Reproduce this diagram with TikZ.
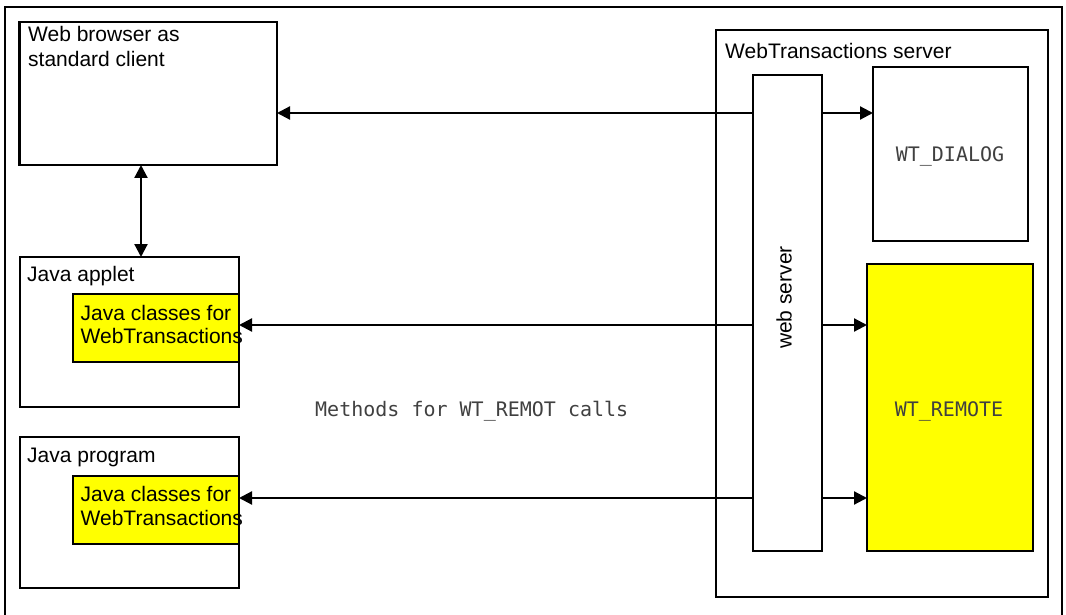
\documentclass[tikz,border=0pt]{standalone}
\usepackage{fontspec}
\setmainfont{Liberation Sans}
\newfontfamily\wtmono{DejaVu Sans Mono}
\usetikzlibrary{arrows.meta,positioning}
\definecolor{wtyellow}{RGB}{255,255,0}
\definecolor{wtgray}{RGB}{64,64,64}

\begin{document}
\begin{tikzpicture}[x=1pt, y=-1pt,
    box/.style={draw, line width=2.4pt, inner sep=0pt, outer sep=0pt, anchor=north west},
    clsbox/.style={box, fill=wtyellow},
    title/.style={inner sep=0pt, anchor=north west, align=left, font=\fontsize{21}{25}\selectfont},
    clstitle/.style={title, font=\fontsize{21}{23.3}\selectfont},
    mono/.style={inner sep=0pt, anchor=base, text=wtgray, font=\wtmono\fontsize{20}{24}\selectfont},
    tip/.style={line width=2.2pt, -{Triangle[length=13pt,width=13pt]}},
    tips/.style={line width=2.2pt, {Triangle[length=13pt,width=13pt]}-{Triangle[length=13pt,width=13pt]}}]
    \useasboundingbox (0,0) rectangle (1066,615);
    % outer frame
    \draw[line width=1.2pt] (5,615) -- (5,7) -- (1062,7) -- (1062,615);
    % clients
    \node[box, minimum width=257.5pt, minimum height=143pt] (browser) at (19.5,22) {};
    \node[box, minimum width=219pt, minimum height=150pt] (applet) at (20,257) {};
    \node[clsbox, minimum width=166pt, minimum height=68pt] (appletcls) at (73,294) {};
    \node[box, minimum width=219pt, minimum height=151pt] (program) at (20,437) {};
    \node[clsbox, minimum width=166pt, minimum height=68pt] (programcls) at (73,476) {};
    % server side
    \node[box, minimum width=332pt, minimum height=567pt] (server) at (716,30) {};
    \node[box, fill=white, minimum width=69pt, minimum height=476pt] (web) at (753,75) {};
    \node[box, line width=1.4pt, minimum width=155pt, minimum height=174pt] (dialog) at (873,67) {};
    \node[clsbox, minimum width=166pt, minimum height=287pt] (remote) at (867,264) {};
    % texts
    \node[title] (browsertxt) at (28,26.4) {Web browser as\\standard client};
    \node[title] (applettxt) at (27,266.5) {Java applet};
    \node[clstitle] (appletclstxt) at (80.5,305.2) {Java classes for\\WebTransactions};
    \node[title] (programtxt) at (27,448) {Java program};
    \node[clstitle] (programclstxt) at (80.5,486.4) {Java classes for\\WebTransactions};
    \node[title] (servertxt) at (725,43) {WebTransactions server};
    \node[inner sep=0pt, anchor=base, rotate=90, font=\fontsize{21}{25}\selectfont] (webtxt) at (791.7,297.5) {web server};
    \node[mono] (dialogtxt) at (950,162) {WT\_DIALOG};
    \node[mono] (remotetxt) at (949,416) {WT\_REMOTE};
    \node[mono, anchor=base west] (methods) at (315,416) {Methods for WT\_REMOT calls};
    % connectors
    \coordinate (rowA) at (0,113);
    \coordinate (rowB) at (0,325);
    \coordinate (rowC) at (0,498);
    \coordinate (colA) at (141,0);
    \draw
    (browser.south -| colA) edge[tips] (applet.north -| colA)
    (web.west |- rowA) edge[tip] (browser.east |- rowA)
    (web.east |- rowA) edge[tip] (dialog.west |- rowA)
    (web.west |- rowB) edge[tip] (appletcls.east |- rowB)
    (web.east |- rowB) edge[tip] (remote.west |- rowB)
    (web.west |- rowC) edge[tip] (programcls.east |- rowC)
    (web.east |- rowC) edge[tip] (remote.west |- rowC);
\end{tikzpicture}
\end{document}
